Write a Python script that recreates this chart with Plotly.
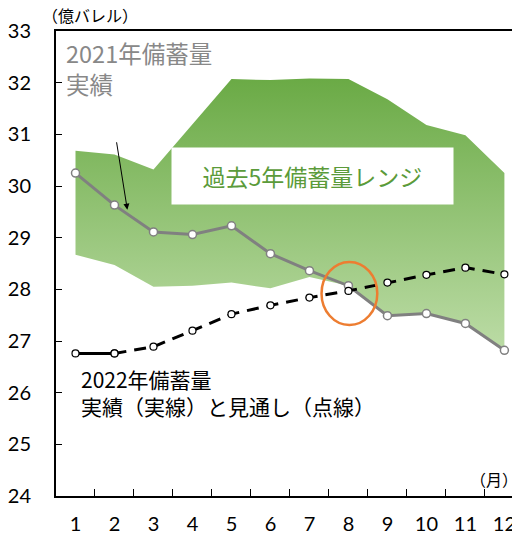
import plotly.graph_objects as go

months = [str(m) for m in range(1, 13)]
y_ticks = list(range(24, 34))

# 2021年 実績
actual_2021 = [30.25, 29.63, 29.11, 29.06, 29.23, 28.69, 28.36, 28.07, 27.49, 27.53, 27.34, 26.82]
# 2022年 実績 + 見通し
actual_2022 = [26.76, 26.76]
outlook_2022 = [26.76, 26.89, 27.20, 27.52, 27.69, 27.84, 27.97, 28.13, 28.28, 28.42, 28.29]
# 過去5年レンジ
range_low = [28.67, 28.47, 28.05, 28.07, 28.13, 28.02, 28.24, 28.07, 27.49, 27.53, 27.34, 26.82]
range_high = [30.68, 30.61, 30.32, 31.20, 32.07, 32.05, 32.08, 32.07, 31.68, 31.18, 30.98, 30.25]

JP = "Noto Sans CJK JP"
NUM = "Lato"

fig = go.Figure()

# レンジ (下限 -> 上限をグラデーションで塗る)
fig.add_trace(go.Scatter(x=months, y=range_low, mode='lines',
                         line=dict(width=0), hoverinfo='skip', showlegend=False))
fig.add_trace(go.Scatter(
    x=months, y=range_high, mode='lines', line=dict(width=0),
    fill='tonexty',
    fillgradient=dict(type='vertical', start=26.8, stop=32.1,
                      colorscale=[[0, '#bcdca6'], [1, '#6aaa45']]),
    hoverinfo='skip', showlegend=False))

# 2021年
fig.add_trace(go.Scatter(
    x=months, y=actual_2021, mode='lines+markers',
    line=dict(color='#808080', width=3),
    marker=dict(size=8, color='white', line=dict(color='#808080', width=1.5)),
    showlegend=False))

# 2022年 見通し(点線)
fig.add_trace(go.Scatter(
    x=months[1:], y=outlook_2022, mode='lines+markers',
    line=dict(color='black', width=3, dash='12px,8px'),
    marker=dict(size=7, color='white', line=dict(color='black', width=1.2)),
    showlegend=False))

# 2022年 実績(実線)
fig.add_trace(go.Scatter(
    x=months[:2], y=actual_2022, mode='lines+markers',
    line=dict(color='black', width=3),
    marker=dict(size=7, color='white', line=dict(color='black', width=1.2)),
    showlegend=False))

# 交差点の丸
fig.add_shape(type='circle', xref='x', yref='y',
              x0=6.31, x1=7.74, y0=27.31, y1=28.53,
              line=dict(color='#ed7d31', width=2.5))

# 注記
fig.add_annotation(x=6.09, y=30.19, xref='x', yref='y',
                   text='過去5年備蓄量レンジ', showarrow=False,
                   bgcolor='white', width=279, height=54,
                   font=dict(family=JP, size=23, color='#5b9b3a'))
fig.add_annotation(x=-0.3, y=32.27, xref='x', yref='y',
                   text='2021年備蓄量<br>実績', showarrow=False,
                   xanchor='left', yanchor='middle', align='left',
                   font=dict(family=JP, size=23.5, color='#888888'))
fig.add_annotation(x=1.33, y=29.54, xref='x', yref='y', text='',
                   showarrow=True, ax=-11, ay=-69,
                   arrowhead=2, arrowsize=1.2, arrowwidth=1, arrowcolor='black')
fig.add_annotation(x=0.1, y=26.0, xref='x', yref='y',
                   text='2022年備蓄量<br>実績（実線）と見通し（点線）', showarrow=False,
                   xanchor='left', yanchor='middle', align='left',
                   font=dict(family=JP, size=21, color='black'))
fig.add_annotation(x=0.073, y=1.005, xref='paper', yref='paper',
                   text='（億バレル）', showarrow=False,
                   xanchor='center', yanchor='bottom',
                   font=dict(family=JP, size=16, color='black'))
fig.add_annotation(x=1.0, y=24.33, xref='paper', yref='y',
                   text='（月）', showarrow=False, xanchor='right', yanchor='middle',
                   font=dict(family=JP, size=16, color='black'))

# ページ余白 8px 分を差し引いたサイズ
fig.update_layout(
    width=512, height=525,
    margin=dict(l=48, r=0, t=23, b=37, autoexpand=False),
    plot_bgcolor='white', paper_bgcolor='white',
    xaxis=dict(type='category', range=[-0.5, 11.4], tickson='boundaries',
               ticks='inside', ticklen=7, tickcolor='black', automargin=False,
               showline=True, linecolor='black', linewidth=2, mirror=True,
               showgrid=False, ticklabelstandoff=9,
               tickfont=dict(family=NUM, size=20, color='black')),
    yaxis=dict(range=[24, 33], tickvals=y_ticks, ticks='inside', ticklen=6,
               tickcolor='black', showline=True, linecolor='black', linewidth=2,
               showgrid=False, zeroline=False, ticklabelstandoff=19, automargin=False,
               tickfont=dict(family=NUM, size=20, color='black')),
)

fig.write_html("out.html")
